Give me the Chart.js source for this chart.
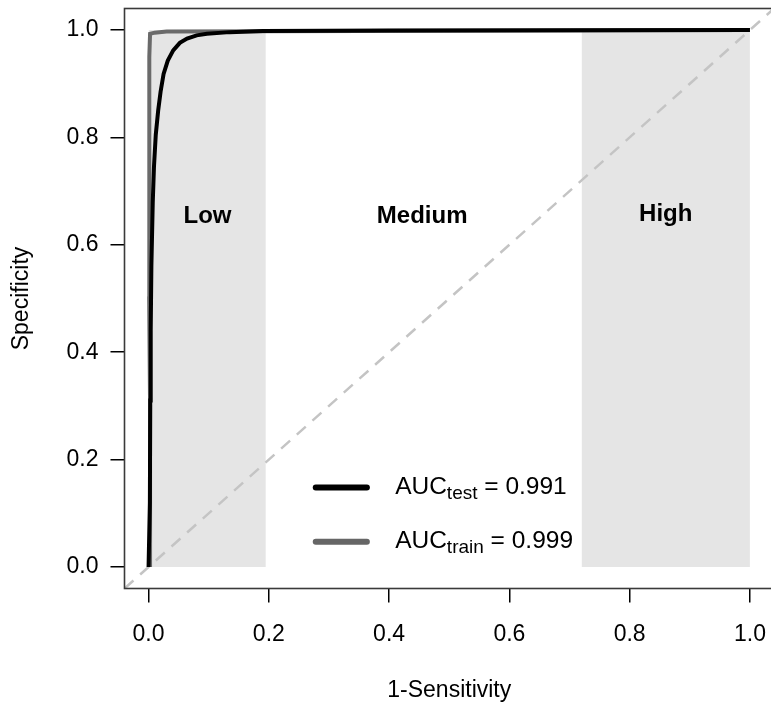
<!DOCTYPE html>
<html>
<head>
<meta charset="utf-8">
<script src="https://cdn.jsdelivr.net/npm/chart.js@4.4.1/dist/chart.umd.min.js"></script>
<style>
  html, body { margin:0; padding:0; background:#fff; overflow:hidden; width:771px; height:713px; }
  #wrap { width:790px; height:713px; }
</style>
</head>
<body>
<div id="wrap"><canvas id="c" width="790" height="713"></canvas></div>
<script>
// ---- data ----
const xTicks = [0, 0.2, 0.4, 0.6, 0.8, 1.0];
const yTicks = [0, 0.2, 0.4, 0.6, 0.8, 1.0];
const testFPR  = [0, 0.0022, 0.0028, 0.0036, 0.0047, 0.007, 0.009, 0.012, 0.016, 0.02, 0.025, 0.032, 0.041, 0.052, 0.064, 0.08, 0.097, 0.135, 0.19, 0.4, 1.0];
const testSpec = [0, 0.12, 0.31, 0.44, 0.56, 0.68, 0.745, 0.805, 0.85, 0.885, 0.918, 0.943, 0.962, 0.976, 0.984, 0.99, 0.993, 0.996, 0.998, 0.999, 1.0];
const trainFPR  = [0.0025, 0.0025, 0.001, 0.001, 0.0015, 0.0025, 0.01, 0.03, 1.0];
const trainSpec = [0, 0.3, 0.5, 0.8, 0.95, 0.993, 0.995, 0.997, 1.0];
const bandStart = [0, 0.72];
const bandEnd   = [0.195, 1.0];
const regionLabels = ['Low', 'Medium', 'High'];
const regionLabelX = [0.098, 0.455, 0.86];
const regionLabelY = [0.652, 0.652, 0.656];
const aucSubs   = ['test', 'train'];
const aucValues = ['0.991', '0.999'];
const diagX = [-0.04, 1.04];

const FAM = '"Liberation Sans", Arial, Helvetica, sans-serif';
const toPts = (xs, ys) => xs.map((x, i) => ({x, y: ys[i]}));

const bandSets = bandStart.map((s, i) => ({
  data: [{x: s, y: 1}, {x: bandEnd[i], y: 1}],
  fill: {value: 0}, backgroundColor: '#e5e5e5', borderWidth: 0, pointRadius: 0
}));

const overlay = {
  id: 'overlay',
  afterDatasetsDraw(chart) {
    const {ctx, scales: {x, y}} = chart;
    ctx.save();
    ctx.fillStyle = '#000';
    ctx.font = 'bold 24px ' + FAM;
    ctx.textAlign = 'center'; ctx.textBaseline = 'middle';
    regionLabels.forEach((t, i) => ctx.fillText(t, x.getPixelForValue(regionLabelX[i]), y.getPixelForValue(regionLabelY[i])));
    const rows = [0.148, 0.047];
    const cols = ['#000000', '#666666'];
    aucSubs.forEach((s, i) => {
      const yy = y.getPixelForValue(rows[i]);
      ctx.strokeStyle = cols[i]; ctx.lineWidth = 6; ctx.lineCap = 'round';
      ctx.beginPath();
      ctx.moveTo(x.getPixelForValue(0.278), yy);
      ctx.lineTo(x.getPixelForValue(0.363), yy);
      ctx.stroke();
      let tx = x.getPixelForValue(0.41);
      const base = yy + 6;
      ctx.textAlign = 'left'; ctx.textBaseline = 'alphabetic'; ctx.fillStyle = '#000';
      ctx.font = '24.5px ' + FAM;
      ctx.fillText('AUC', tx, base); tx += ctx.measureText('AUC').width;
      ctx.font = '19px ' + FAM;
      ctx.fillText(s, tx, base + 5); tx += ctx.measureText(s).width;
      ctx.font = '24.5px ' + FAM;
      ctx.fillText(' = ' + aucValues[i], tx, base);
    });
    ctx.restore();
  },
  afterDraw(chart) {
    const {ctx, chartArea: a} = chart;
    ctx.save();
    ctx.strokeStyle = '#3a3a3a'; ctx.lineWidth = 1.6;
    ctx.strokeRect(a.left, a.top, a.right - a.left, a.bottom - a.top);
    ctx.restore();
  }
};

new Chart(document.getElementById('c'), {
  type: 'line',
  data: {
    datasets: [
      {data: toPts(testFPR, testSpec), borderColor: '#000', borderWidth: 4, pointRadius: 0, fill: false, tension: 0},
      {data: toPts(trainFPR, trainSpec), borderColor: '#6a6a6a', borderWidth: 4, pointRadius: 0, fill: false, tension: 0},
      {data: toPts(diagX, diagX), borderColor: '#c4c4c4', borderWidth: 2.5, borderDash: [12, 9], pointRadius: 0, fill: false},
      ...bandSets
    ]
  },
  options: {
    responsive: false, animation: false, devicePixelRatio: 1,
    layout: {padding: {top: 8.5, right: 16, left: 0, bottom: 0}},
    plugins: {legend: {display: false}, tooltip: {enabled: false}},
    scales: {
      x: {
        type: 'linear', min: -0.04, max: 1.04,
        afterFit(s) { s.height = 124.5; s.paddingLeft = 0; s.paddingRight = 0; },
        afterBuildTicks(s) { s.ticks = xTicks.map(v => ({value: v})); },
        ticks: {padding: 18.5, autoSkip: false, maxRotation: 0, color: '#000', font: {size: 23, family: FAM}, callback: v => v.toFixed(1)},
        grid: {drawOnChartArea: false, drawTicks: true, tickLength: 14, color: '#000', lineWidth: 1.5},
        border: {display: false},
        title: {display: true, text: '1-Sensitivity', color: '#000', font: {size: 23, family: FAM}, padding: {top: 0, bottom: 9}}
      },
      y: {
        type: 'linear', min: -0.04, max: 1.04,
        afterFit(s) { s.width = 124.5; s.paddingTop = 0; s.paddingBottom = 0; },
        afterBuildTicks(s) { s.ticks = yTicks.map(v => ({value: v})); },
        ticks: {padding: 12, autoSkip: false, color: '#000', font: {size: 23, family: FAM}, callback: v => v.toFixed(1)},
        grid: {drawOnChartArea: false, drawTicks: true, tickLength: 14, color: '#000', lineWidth: 1.5},
        border: {display: false},
        title: {display: true, text: 'Specificity', color: '#000', font: {size: 23, family: FAM}, padding: {top: 8, bottom: 0}}
      }
    }
  },
  plugins: [overlay]
});
</script>
</body>
</html>
